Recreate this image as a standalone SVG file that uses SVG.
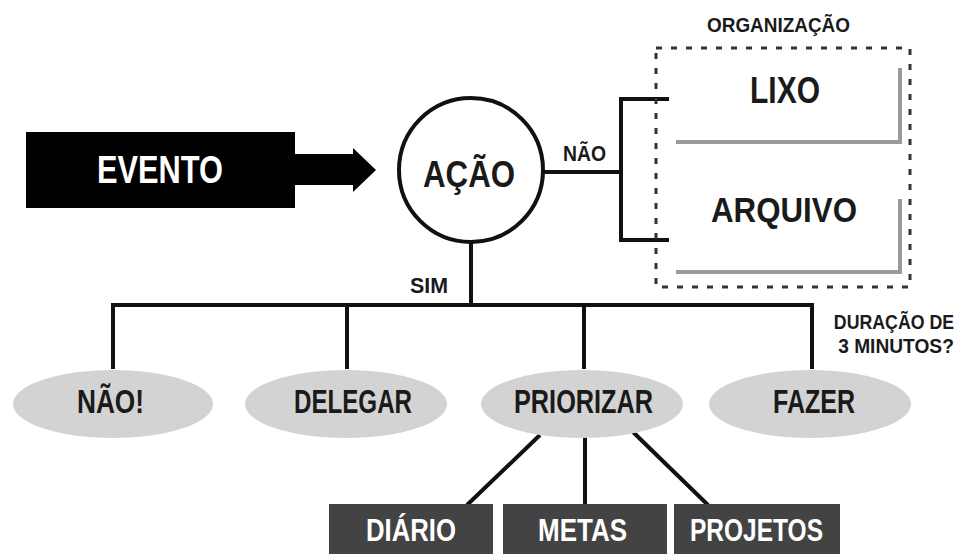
<svg xmlns="http://www.w3.org/2000/svg" width="966" height="554" viewBox="0 0 966 554">
<style>
.t{font-family:"Liberation Sans",Arial,sans-serif;font-weight:bold;fill:#1a1a1a;text-anchor:middle}
.w{fill:#ffffff}
.ln{stroke:#111;stroke-width:4;fill:none}
.gl{stroke:#9a9a9a;stroke-width:4;fill:none}
.el{fill:#d3d3d3}
.bx{fill:#434343}
</style>
<rect width="966" height="554" fill="#ffffff"/>
<g id="connectors">
  <path class="ln" d="M544 172 H621 M669 99 H621 V240 H669"/>
  <path class="ln" d="M471 243 V305 M113 305 H812 M113 303 V369 M347 303 V369 M584 303 V369 M812 303 V369"/>
  <path class="ln" d="M540 435 L467 505 M585 437 V505 M633 432 L708 505"/>
</g>
<g id="evento">
  <rect x="26" y="132" width="269" height="76" fill="#000"/>
  <path d="M294 154 H353 V148 L376 170 L353 192 V185 H294 Z" fill="#000"/>
  <text class="t w" x="160" y="183" font-size="38" textLength="126" lengthAdjust="spacingAndGlyphs">EVENTO</text>
</g>
<g id="acao">
  <circle cx="471" cy="170" r="72" fill="#fff" stroke="#111" stroke-width="4"/>
  <text class="t" x="469" y="187" font-size="37" textLength="92" lengthAdjust="spacingAndGlyphs">AÇÃO</text>
</g>
<g id="nao-label">
  <text class="t" x="584.5" y="161" font-size="22" textLength="43" lengthAdjust="spacingAndGlyphs">NÃO</text>
</g>
<g id="organizacao">
  <rect x="656" y="48" width="254" height="239" fill="none" stroke="#333" stroke-width="3" stroke-dasharray="6 9"/>
  <text class="t" x="778.5" y="32" font-size="21" textLength="143" lengthAdjust="spacingAndGlyphs">ORGANIZAÇÃO</text>
</g>
<g id="lixo">
  <path class="gl" d="M676 142 H900 V68"/>
  <text class="t" x="785" y="103" font-size="37" textLength="70" lengthAdjust="spacingAndGlyphs">LIXO</text>
</g>
<g id="arquivo">
  <path class="gl" d="M676 272 H900 V199"/>
  <text class="t" x="784" y="222" font-size="35" textLength="146" lengthAdjust="spacingAndGlyphs">ARQUIVO</text>
</g>
<g id="sim-label">
  <text class="t" x="429" y="293" font-size="22" textLength="38" lengthAdjust="spacingAndGlyphs">SIM</text>
</g>
<g id="duracao-label">
  <text class="t" transform="translate(894 329) scale(0.845 1)" x="0" y="0" font-size="21">DURAÇÃO DE</text>
  <text class="t" transform="translate(896 353) scale(0.913 1)" x="0" y="0" font-size="21">3 MINUTOS?</text>
</g>
<g id="nao">
  <ellipse class="el" cx="113" cy="404" rx="100" ry="34"/>
  <text class="t" x="110.5" y="413" font-size="33" textLength="67" lengthAdjust="spacingAndGlyphs">NÃO!</text>
</g>
<g id="delegar">
  <ellipse class="el" cx="346" cy="404" rx="101" ry="34"/>
  <text class="t" x="353" y="413" font-size="33" textLength="118" lengthAdjust="spacingAndGlyphs">DELEGAR</text>
</g>
<g id="priorizar">
  <ellipse class="el" cx="582" cy="404" rx="101" ry="34"/>
  <text class="t" x="583.5" y="413" font-size="33" textLength="139" lengthAdjust="spacingAndGlyphs">PRIORIZAR</text>
</g>
<g id="fazer">
  <ellipse class="el" cx="810" cy="404" rx="101" ry="34"/>
  <text class="t" x="814" y="413" font-size="33" textLength="82" lengthAdjust="spacingAndGlyphs">FAZER</text>
</g>
<g id="diario">
  <rect class="bx" x="329" y="504" width="164" height="50"/>
  <text class="t w" x="411" y="541" font-size="32" textLength="90" lengthAdjust="spacingAndGlyphs">DIÁRIO</text>
</g>
<g id="metas">
  <rect class="bx" x="503" y="504" width="164" height="50"/>
  <text class="t w" x="582.5" y="541" font-size="32" textLength="89" lengthAdjust="spacingAndGlyphs">METAS</text>
</g>
<g id="projetos">
  <rect class="bx" x="674" y="504" width="166" height="50"/>
  <text class="t w" x="756.5" y="541" font-size="32" textLength="133" lengthAdjust="spacingAndGlyphs">PROJETOS</text>
</g>
</svg>
